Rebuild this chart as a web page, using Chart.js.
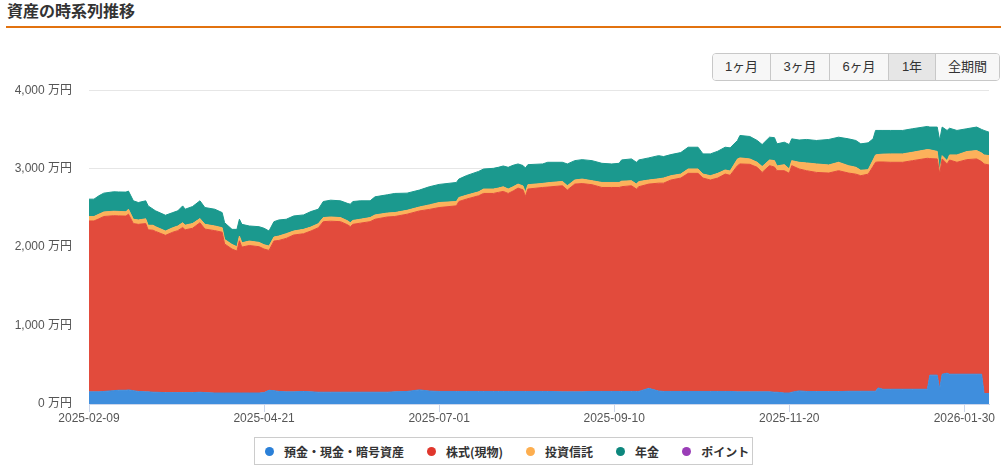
<!DOCTYPE html>
<html lang="ja">
<head>
<meta charset="utf-8">
<title>資産の時系列推移</title>
<script src="https://cdn.jsdelivr.net/npm/chart.js@4/dist/chart.umd.min.js"></script>
<style>
  html, body { margin: 0; padding: 0; background: #fff; }
  body { width: 1001px; height: 474px; position: relative; overflow: hidden;
         font-family: "Liberation Sans", "Noto Sans CJK JP", sans-serif; color: #333; }
  .title { position: absolute; left: 7px; top: 0; margin: 0; font-size: 16px; line-height: 20px;
           font-weight: bold; font-family: "Noto Sans CJK JP", sans-serif; color: #333; }
  .rule { position: absolute; left: 6px; right: 0; top: 26px; height: 2px; background: #e2720f; }
  .range { position: absolute; left: 712px; top: 53px; display: flex; border: 1px solid #c8c8c8;
           border-radius: 4px; overflow: hidden; z-index: 2; }
  .range span { display: block; height: 26px; line-height: 26px; text-align: center; font-size: 13px;
                background: #f7f7f7; border-left: 1px solid #c8c8c8; color: #333;
                font-family: "Liberation Sans", "Noto Sans CJK JP", sans-serif; }
  .range span:first-child { border-left: none; }
  .range span.on { background: #e6e6e6; }
  .chart-box { position: absolute; left: 0; top: 66px; width: 1001px; height: 364px; }
  .chart-box canvas { display: block; }
  .legend { position: absolute; left: 254px; top: 437px; width: 487px; height: 26px;
            border: 1px solid #ccc; display: flex; align-items: center; padding-left: 10px; box-sizing: content-box; }
  .legend .item { display: flex; align-items: center; margin-right: 23px; font-size: 12px; font-weight: bold;
                  font-family: "Noto Sans CJK JP", sans-serif; color: #333; white-space: nowrap; }
  .legend .item:last-child { margin-right: 0; }
  .legend .dot { width: 9px; height: 9px; border-radius: 50%; margin-right: 10px; }
</style>
</head>
<body>
<h2 class="title">資産の時系列推移</h2>
<div class="rule"></div>
<div class="chart-box"><canvas id="assetChart"></canvas></div>
<div class="range" id="range"></div>
<div class="legend" id="legend"></div>

<script>
// ---- data (万円), days counted from 2025-02-09 ----
const startDate = '2025-02-09';
const tickDays = [0, 71, 142, 213, 284, 355];
const yTicks = [0, 1000, 2000, 3000, 4000];
const rangeButtons = ['1ヶ月', '3ヶ月', '6ヶ月', '1年', '全期間'];
const rangeWidths = [57, 58, 58, 46, 63];
const activeRange = '1年';

const seriesNames = ['預金・現金・暗号資産', '株式(現物)', '投資信託', '年金', 'ポイント'];
const fillColors = ['#3f8edd', '#e24b3c', '#fcb15b', '#1b998e', '#9b40b8'];
const dotColors = ['#2b80d8', '#e0372d', '#fdae4f', '#0d877d', '#9a3db7'];

const days = [
  0, 2, 4, 6, 10, 12, 15, 16, 18, 20,
  23, 24, 26, 27, 31, 34, 36, 38, 39, 42,
  45, 47, 51, 54, 55, 58, 60, 61, 62, 65,
  69, 71, 73, 75, 77, 80, 83, 87, 90, 93,
  95, 98, 102, 105, 106, 107, 110, 114, 116, 121,
  124, 129, 134, 138, 142, 149, 150, 153, 158, 160,
  164, 166, 168, 170, 172, 174, 176, 177, 178, 184,
  186, 192, 194, 197, 200, 204, 208, 212, 215, 216,
  220, 222, 223, 227, 231, 233, 236, 240, 243, 247,
  249, 252, 255, 258, 260, 263, 264, 268, 271, 273,
  276, 278, 279, 282, 284, 285, 288, 291, 295, 300,
  304, 308, 311, 313, 316, 318, 319, 320, 322, 325,
  330, 334, 340, 341, 344, 345, 346, 348, 349, 352,
  356, 360, 362, 363, 365
];

const deposits = [
  155, 155, 155, 160, 170, 175, 175, 180, 170, 160,
  155, 155, 150, 150, 145, 145, 145, 145, 145, 145,
  150, 145, 140, 140, 140, 140, 140, 140, 140, 140,
  140, 145, 175, 170, 160, 155, 155, 160, 155, 150,
  150, 150, 150, 150, 150, 150, 150, 150, 150, 150,
  155, 160, 180, 165, 160, 160, 160, 160, 160, 160,
  160, 160, 160, 160, 160, 160, 160, 160, 160, 160,
  160, 155, 155, 155, 155, 160, 160, 160, 160, 160,
  160, 160, 160, 200, 165, 160, 160, 160, 160, 160,
  160, 160, 160, 160, 160, 155, 155, 155, 155, 155,
  155, 150, 150, 140, 140, 150, 167, 160, 158, 158,
  158, 162, 162, 162, 162, 162, 162, 205, 188, 188,
  188, 188, 188, 368, 368, 190, 380, 393, 380, 380,
  380, 380, 380, 133, 133
];

const stocks = [
  2178, 2178, 2205, 2230, 2230, 2223, 2220, 2240, 2130, 2130,
  2145, 2065, 2065, 2050, 2005, 2045, 2065, 2105, 2075, 2095,
  2160, 2085, 2070, 2050, 1900, 1835, 1810, 1940, 1860, 1880,
  1865, 1830, 1783, 1907, 1925, 1956, 1999, 2010, 2050, 2097,
  2174, 2180, 2174, 2132, 2110, 2140, 2155, 2174, 2205, 2234,
  2235, 2259, 2281, 2315, 2344, 2366, 2421, 2451, 2494, 2524,
  2524, 2537, 2550, 2524, 2555, 2592, 2570, 2485, 2580, 2600,
  2605, 2627, 2572, 2648, 2655, 2635, 2600, 2600, 2600, 2610,
  2622, 2580, 2610, 2603, 2650, 2655, 2695, 2720, 2780, 2780,
  2720, 2695, 2720, 2771, 2755, 2883, 2905, 2900, 2862, 2797,
  2883, 2870, 2824, 2834, 2800, 2888, 2829, 2814, 2794, 2786,
  2816, 2782, 2768, 2748, 2768, 2868, 2919, 2880, 2897, 2893,
  2893, 2914, 2944, 2760, 2756, 2741, 2744, 2667, 2730, 2701,
  2735, 2744, 2710, 2927, 2914
];

const funds = [
  56, 56, 59, 58, 57, 57, 55, 63, 55, 56,
  60, 58, 63, 60, 55, 57, 59, 61, 60, 60,
  53, 60, 59, 57, 58, 59, 55, 61, 55, 57,
  55, 55, 55, 51, 56, 60, 51, 56, 51, 52,
  52, 54, 52, 51, 50, 50, 50, 52, 55, 50,
  50, 50, 50, 58, 64, 55, 51, 50, 50, 56,
  56, 55, 59, 56, 54, 51, 50, 55, 55, 52,
  55, 55, 55, 52, 57, 51, 64, 64, 64, 70,
  64, 63, 65, 52, 55, 65, 55, 51, 56, 56,
  51, 55, 60, 52, 55, 86, 77, 69, 64, 74,
  73, 82, 60, 77, 56, 64, 85, 99, 108, 103,
  107, 94, 87, 70, 57, 80, 94, 95, 100, 107,
  107, 107, 111, 112, 96, 30, 42, 42, 65, 94,
  103, 106, 110, 115, 119
];

const pension = [
  222, 222, 235, 240, 248, 248, 251, 231, 235, 222,
  230, 247, 205, 202, 201, 193, 193, 214, 203, 217,
  227, 214, 214, 193, 213, 192, 221, 214, 235, 192,
  200, 210, 192, 196, 205, 184, 192, 184, 197, 184,
  205, 214, 214, 222, 237, 241, 235, 214, 231, 233,
  244, 219, 216, 231, 231, 243, 235, 249, 261, 255,
  264, 265, 265, 277, 274, 257, 260, 308, 256, 248,
  261, 244, 278, 247, 248, 256, 244, 236, 244, 271,
  278, 278, 276, 282, 296, 274, 269, 274, 277, 277,
  257, 278, 282, 290, 295, 235, 286, 286, 278, 281,
  290, 293, 282, 286, 311, 278, 284, 299, 299, 325,
  320, 342, 342, 336, 342, 270, 312, 307, 302, 299,
  299, 300, 295, 290, 310, 400, 364, 385, 340, 312,
  291, 300, 300, 312, 299
];

const points = [
  0, 0, 0, 0, 0, 0, 0, 0, 0, 0,
  0, 0, 0, 0, 0, 0, 0, 0, 0, 0,
  0, 0, 0, 0, 0, 0, 0, 0, 0, 0,
  0, 0, 0, 0, 0, 0, 0, 0, 0, 0,
  0, 0, 0, 0, 0, 0, 0, 0, 0, 0,
  0, 0, 0, 0, 0, 0, 0, 0, 0, 0,
  0, 0, 0, 0, 0, 0, 0, 0, 0, 0,
  0, 0, 0, 0, 0, 0, 0, 0, 0, 0,
  0, 0, 0, 0, 0, 0, 0, 0, 0, 0,
  0, 0, 0, 0, 0, 0, 0, 0, 0, 0,
  0, 0, 0, 0, 0, 0, 0, 0, 0, 0,
  0, 0, 0, 0, 0, 0, 0, 0, 0, 0,
  0, 0, 0, 0, 0, 0, 0, 0, 0, 0,
  0, 0, 0, 0, 0
];

(function () {
  const series = [deposits, stocks, funds, pension, points];
  const start = Date.parse(startDate + 'T00:00:00Z');

  function dayLabel(d) {
    return new Date(start + d * 86400000).toISOString().slice(0, 10);
  }
  function manYen(v) {
    return String(v).replace(/\B(?=(\d{3})+(?!\d))/g, ',') + ' 万円';
  }

  // range buttons (static, "1年" selected)
  const range = document.getElementById('range');
  rangeButtons.forEach((label, i) => {
    const b = document.createElement('span');
    b.textContent = label;
    b.style.width = rangeWidths[i] + 'px';
    if (label === activeRange) b.className = 'on';
    range.appendChild(b);
  });

  // html legend
  const legend = document.getElementById('legend');
  seriesNames.forEach((name, i) => {
    const item = document.createElement('div');
    item.className = 'item';
    const dot = document.createElement('span');
    dot.className = 'dot';
    dot.style.background = dotColors[i];
    item.appendChild(dot);
    item.appendChild(document.createTextNode(name));
    legend.appendChild(item);
  });

  const datasets = series.map((values, i) => ({
    label: seriesNames[i],
    data: values.map((v, k) => ({ x: days[k], y: v })),
    backgroundColor: fillColors[i],
    borderColor: i === 4 ? 'rgba(0,0,0,0)' : fillColors[i],
    borderWidth: 1,
    fill: i === 0 ? 'origin' : '-1',
    pointRadius: 0,
    tension: 0
  }));

  // y tick padding (17) also pads the top of the plot, so the canvas starts higher
  const ctx = document.getElementById('assetChart').getContext('2d');
  new Chart(ctx, {
    type: 'line',
    data: { datasets: datasets },
    options: {
      responsive: true,
      maintainAspectRatio: false,
      animation: false,
      layout: { padding: { top: 0, right: 12, left: 0, bottom: 0 } },
      plugins: {
        legend: { display: false },
        tooltip: { enabled: false }
      },
      scales: {
        x: {
          type: 'linear',
          min: 0,
          max: 365,
          afterBuildTicks: scale => { scale.ticks = tickDays.map(v => ({ value: v })); },
          afterFit: scale => { scale.height = 26; },
          grid: { drawOnChartArea: false, drawTicks: true, tickLength: 8, color: '#ccd6eb' },
          border: { color: '#ccd6eb' },
          ticks: {
            autoSkip: false,
            maxRotation: 0,
            padding: -1,
            color: '#555',
            font: { size: 12, family: '"Liberation Sans", "Noto Sans CJK JP", sans-serif' },
            callback: value => dayLabel(value)
          }
        },
        y: {
          stacked: true,
          min: 0,
          max: 4000,
          afterBuildTicks: scale => { scale.ticks = yTicks.map(v => ({ value: v })); },
          afterFit: scale => { scale.width = 89; },
          grid: { color: '#e6e6e6', drawTicks: false },
          border: { display: false },
          ticks: {
            padding: 17,
            color: '#555',
            font: { size: 12, family: '"Liberation Sans", "Noto Sans CJK JP", sans-serif' },
            callback: value => manYen(value)
          }
        }
      }
    }
  });
})();
</script>
</body>
</html>
